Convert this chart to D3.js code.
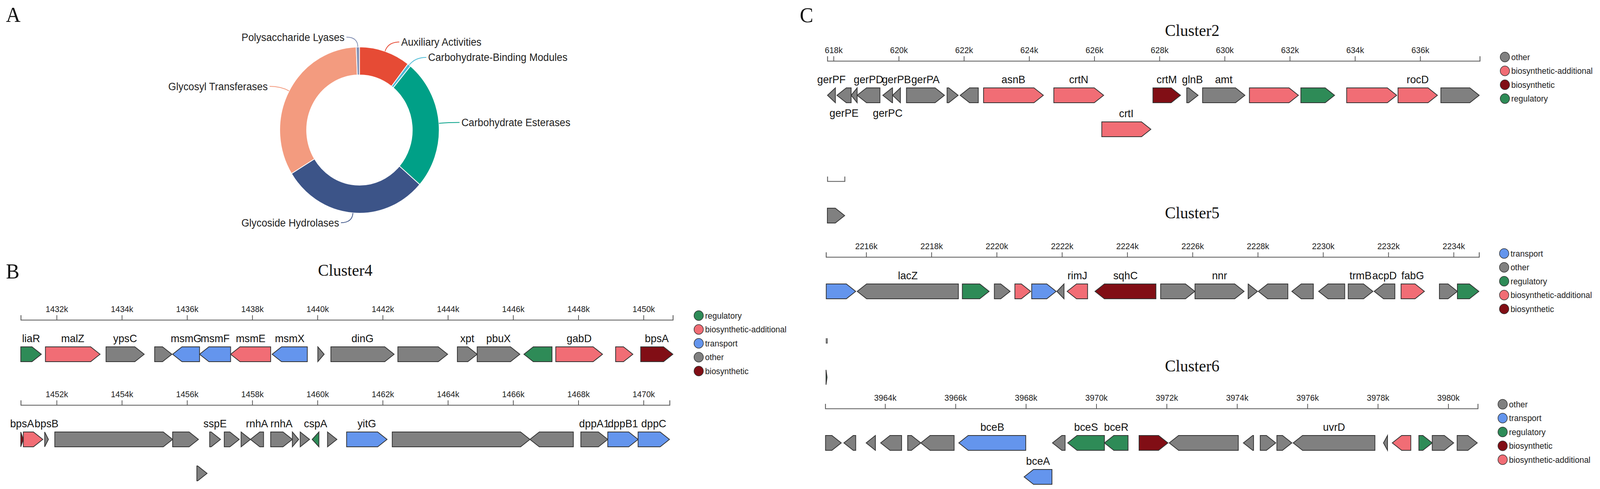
<!DOCTYPE html>
<html>
<head>
<meta charset="utf-8">
<script src="https://cdn.jsdelivr.net/npm/d3@7"></script>
<style>
  html, body { margin: 0; padding: 0; background: #fff; overflow: hidden; }
  #fig { display: block; width: 100vw; height: 100vh; }
  text { font-family: "Liberation Sans", Arial, sans-serif; }
  .serif { font-family: "Liberation Serif", "Times New Roman", serif; }
</style>
</head>
<body>
<svg id="fig" viewBox="0 0 4273 1252" preserveAspectRatio="none"></svg>
<script>
/*
    DATA
*/
// panel A: CAZy classes (counts)
const cazyNames = ["Auxiliary Activities", "Carbohydrate-Binding Modules", "Carbohydrate Esterases",
    "Glycoside Hydrolases", "Glycosyl Transferases", "Polysaccharide Lyases"];
const cazyCounts = [16, 1, 39, 46, 51, 1];

// genes: [start, end, strand, type, name]
const cluster4Genes = [
    [1430900, 1431530, 1, "regulatory", "liaR"],
    [1431656, 1433331, 1, "biosynthetic-additional", "malZ"],
    [1433515, 1434685, 1, "other", "ypsC"],
    [1435006, 1435534, 1, "other", ""],
    [1435557, 1436383, -1, "transport", "msmG"],
    [1436383, 1437336, -1, "transport", "msmF"],
    [1437336, 1438564, -1, "biosynthetic-additional", "msmE"],
    [1438610, 1439688, -1, "transport", "msmX"],
    [1440010, 1440205, 1, "other", ""],
    [1440411, 1442350, 1, "other", "dinG"],
    [1442465, 1443991, 1, "other", ""],
    [1444290, 1444898, 1, "other", "xpt"],
    [1444898, 1446206, 1, "other", "pbuX"],
    [1446332, 1447193, -1, "regulatory", ""],
    [1447308, 1448742, 1, "biosynthetic-additional", "gabD"],
    [1449144, 1449672, 1, "biosynthetic-additional", ""],
    [1449913, 1450900, 1, "biosynthetic", "bpsA"],
    [1450900, 1450979, 1, "biosynthetic", "bpsA"],
    [1450979, 1451575, 1, "biosynthetic-additional", ""],
    [1451633, 1451748, 1, "other", "bpsB"],
    [1451943, 1455557, 1, "other", ""],
    [1455557, 1456349, 1, "other", ""],
    [1456300, 1456613, 1, "other", ""],
    [1456693, 1457026, 1, "other", "sspE"],
    [1457141, 1457600, 1, "other", ""],
    [1457657, 1457944, 1, "other", ""],
    [1457944, 1458346, -1, "other", "rnhA"],
    [1458564, 1459229, 1, "other", "rnhA"],
    [1459229, 1459424, 1, "other", ""],
    [1459470, 1459757, 1, "other", ""],
    [1459837, 1460044, -1, "regulatory", "cspA"],
    [1460308, 1460595, 1, "other", ""],
    [1460893, 1462133, 1, "transport", "yitG"],
    [1462293, 1466516, 1, "other", ""],
    [1466516, 1467847, -1, "other", ""],
    [1468077, 1468903, 1, "other", "dppA1"],
    [1468903, 1469833, 1, "transport", "dppB1"],
    [1469833, 1470796, 1, "transport", "dppC"]
];
const cluster4Rows = [[1430900, 1450900], [1450900, 1470800]];
const cluster4Legend = ["regulatory", "biosynthetic-additional", "transport", "other", "biosynthetic"];

const cluster2Genes = [
    [617814, 618056, -1, "other", "gerPF"],
    [618104, 618539, -1, "other", "gerPE"],
    [618539, 618724, -1, "other", ""],
    [618724, 619423, -1, "other", "gerPD"],
    [619512, 619810, -1, "other", "gerPC"],
    [619810, 620051, -1, "other", "gerPB"],
    [620237, 621403, 1, "other", "gerPA"],
    [621483, 621822, 1, "other", ""],
    [621886, 622441, -1, "other", ""],
    [622602, 624437, 1, "biosynthetic-additional", "asnB"],
    [624758, 626287, 1, "biosynthetic-additional", "crtN"],
    [626230, 627736, 1, "biosynthetic-additional", "crtI"],
    [627800, 628646, 1, "biosynthetic", "crtM"],
    [628838, 629185, 1, "other", "glnB"],
    [629323, 630622, 1, "other", "amt"],
    [630760, 632264, 1, "biosynthetic-additional", ""],
    [632339, 633373, 1, "regulatory", ""],
    [633744, 635280, 1, "biosynthetic-additional", ""],
    [635320, 636529, 1, "biosynthetic-additional", "rocD"],
    [636635, 637811, 1, "other", ""],
    [638050, 638580, 1, "other", ""]
];
const cluster2Rows = [[617810, 637830], [638050, 638580]];
const cluster2Legend = ["other", "biosynthetic-additional", "biosynthetic", "regulatory"];

const cluster5Genes = [
    [2214777, 2215679, 1, "transport", ""],
    [2215727, 2218826, -1, "other", "lacZ"],
    [2218947, 2219767, 1, "regulatory", ""],
    [2219928, 2220410, 1, "other", ""],
    [2220557, 2221041, 1, "biosynthetic-additional", ""],
    [2221072, 2221821, 1, "transport", ""],
    [2221844, 2222062, -1, "other", ""],
    [2222159, 2222785, -1, "biosynthetic-additional", "rimJ"],
    [2223012, 2224879, -1, "biosynthetic", "sqhC"],
    [2225023, 2226071, 1, "other", ""],
    [2226076, 2227580, 1, "other", "nnr"],
    [2227705, 2227992, 1, "other", ""],
    [2228017, 2228921, -1, "other", ""],
    [2229044, 2229702, -1, "other", ""],
    [2229865, 2230664, -1, "other", ""],
    [2230771, 2231527, 1, "other", "trmB"],
    [2231567, 2232200, -1, "other", "acpD"],
    [2232390, 2233105, 1, "biosynthetic-additional", "fabG"],
    [2233565, 2234116, 1, "other", ""],
    [2234116, 2234773, 1, "regulatory", ""],
    [2234780, 2234812, 1, "regulatory", ""]
];
const cluster5Rows = [[2214770, 2234780], [2234780, 2234812]];
const cluster5Legend = ["transport", "other", "regulatory", "biosynthetic-additional", "biosynthetic"];

const cluster6Genes = [
    [3962307, 3962754, 1, "other", ""],
    [3962829, 3963165, -1, "other", ""],
    [3963462, 3963724, -1, "other", ""],
    [3963874, 3964469, -1, "other", ""],
    [3964641, 3965014, 1, "other", ""],
    [3965014, 3965961, -1, "other", ""],
    [3966095, 3967996, -1, "transport", "bceB"],
    [3967950, 3968741, -1, "transport", "bceA"],
    [3968756, 3969114, -1, "other", ""],
    [3969188, 3970232, -1, "regulatory", "bceS"],
    [3970232, 3970903, -1, "regulatory", "bceR"],
    [3971216, 3972036, 1, "biosynthetic", ""],
    [3972073, 3974035, -1, "other", ""],
    [3974180, 3974469, -1, "other", ""],
    [3974659, 3975100, 1, "other", ""],
    [3975131, 3975557, 1, "other", ""],
    [3975595, 3977917, -1, "other", "uvrD"],
    [3978160, 3978275, -1, "other", ""],
    [3978411, 3978937, -1, "biosynthetic-additional", ""],
    [3979166, 3979546, 1, "regulatory", ""],
    [3979546, 3980155, 1, "other", ""],
    [3980254, 3980825, 1, "other", ""]
];
const cluster6Rows = [[3962300, 3980840]];
const cluster6Legend = ["other", "transport", "regulatory", "biosynthetic", "biosynthetic-additional"];

/*
    STYLE / LAYOUT
*/
const CAZY_COLORS = ["#E64B35", "#4DBBD5", "#00A087", "#3C5488", "#F39B7F", "#8491B4"];
const TYPE_COLORS = {
    "biosynthetic": "#810E15",
    "biosynthetic-additional": "#F16D75",
    "transport": "#6495ED",
    "regulatory": "#2E8B57",
    "other": "#808080"
};
const GENE_H = 38, HEAD = 25, TRACK_GAP = 87, AXIS_TO_GENE = 88;

const svg = d3.select("#fig");
svg.append("rect").attr("width", 4273).attr("height", 1252).attr("fill", "#fff");

// panel letters
[["A", 16, 56], ["B", 16, 713], ["C", 2136, 57]].forEach(p => {
    svg.append("text").attr("class", "serif").attr("x", p[1]).attr("y", p[2])
        .attr("font-size", 54).attr("fill", "#111").text(p[0]);
});

/*
    PANEL A - donut
*/
drawDonut({ cx: 960, cy: 333, r0: 141, r1: 213 });

function drawDonut(cfg) {
    const g = svg.append("g").attr("transform", `translate(${cfg.cx},${cfg.cy})`);
    const arcs = d3.pie().sort(null).value(d => d)(cazyCounts);
    const arc = d3.arc().innerRadius(cfg.r0).outerRadius(cfg.r1);
    g.selectAll("path.slice")
        .data(arcs)
        .join("path")
        .attr("class", "slice")
        .attr("d", arc)
        .attr("fill", (d, i) => CAZY_COLORS[i])
        .attr("stroke", "#fff")
        .attr("stroke-width", 2);

    arcs.forEach((d, i) => {
        const a = (d.startAngle + d.endAngle) / 2;
        const s = Math.sin(a), c = -Math.cos(a);
        const dir = s >= 0 ? 1 : -1;
        const p0 = [cfg.r1 * s, cfg.r1 * c];
        const p1 = [(cfg.r1 + 25) * s, (cfg.r1 + 25) * c];
        const p2 = [p1[0] + dir * 30, p1[1]];
        g.append("path")
            .attr("d", `M${p0}Q${p1} ${p2}`)
            .attr("fill", "none")
            .attr("stroke", CAZY_COLORS[i])
            .attr("stroke-width", 2);
        g.append("text")
            .attr("x", p2[0] + dir * 5)
            .attr("y", p2[1])
            .attr("dy", "0.35em")
            .attr("text-anchor", dir > 0 ? "start" : "end")
            .attr("font-size", 27)
            .attr("fill", "#222")
            .text(cazyNames[i]);
    });
}

/*
    PANELS B, C - gene clusters
*/
drawCluster({ title: "Cluster4", tx: 922, ty: 706, x0: 55.5, x1: 1797, rowY: [819, 1037], lx: 1866, ly: 808 },
    cluster4Genes, cluster4Rows, cluster4Legend);
drawCluster({ title: "Cluster2", tx: 3184, ty: 92, x0: 2209.6, x1: 3952, rowY: [156, 464], lx: 4019, ly: 146 },
    cluster2Genes, cluster2Rows, cluster2Legend);
drawCluster({ title: "Cluster5", tx: 3184, ty: 559, x0: 2206, x1: 3950, rowY: [658, 878], lx: 4017, ly: 649 },
    cluster5Genes, cluster5Rows, cluster5Legend);
drawCluster({ title: "Cluster6", tx: 3184, ty: 951, x0: 2204, x1: 3946.6, rowY: [1046], lx: 4013, ly: 1035 },
    cluster6Genes, cluster6Rows, cluster6Legend);

function genePath(xa, xb, strand, yc) {
    const top = yc - GENE_H / 2, bot = yc + GENE_H / 2;
    const head = Math.min(HEAD, xb - xa);
    if (strand > 0) {
        return `M${xa},${top}L${xb - head},${top}L${xb},${yc}L${xb - head},${bot}L${xa},${bot}Z`;
    }
    return `M${xb},${top}L${xa + head},${top}L${xa},${yc}L${xa + head},${bot}L${xb},${bot}Z`;
}

function drawCluster(cfg, genes, rows, legend) {
    const g = svg.append("g");
    const k = (cfg.x1 - cfg.x0) / (rows[0][1] - rows[0][0]);

    g.append("text").attr("class", "serif")
        .attr("x", cfg.tx).attr("y", cfg.ty)
        .attr("text-anchor", "middle")
        .attr("font-size", 43).attr("fill", "#111")
        .text(cfg.title);

    rows.forEach((dom, ri) => {
        const axisY = cfg.rowY[ri];
        const x = d3.scaleLinear().domain(dom).range([cfg.x0, cfg.x0 + (dom[1] - dom[0]) * k]);
        const ticks = d3.range(Math.ceil(dom[0] / 2000) * 2000, dom[1], 2000);
        const axis = d3.axisTop(x)
            .tickValues(ticks)
            .tickFormat(v => (v / 1000) + "k")
            .tickSizeInner(12)
            .tickSizeOuter(12)
            .tickPadding(8);
        const ag = g.append("g").attr("transform", `translate(0,${axisY})`).call(axis);
        ag.select(".domain").attr("stroke", "#555").attr("stroke-width", 2.2);
        ag.selectAll(".tick line").attr("stroke", "#555").attr("stroke-width", 2);
        ag.selectAll(".tick text")
            .attr("font-size", 22)
            .attr("fill", "#222")
            .attr("font-family", "'Liberation Sans', Arial, sans-serif");

        // genes in this row + track assignment for overlaps
        const rowGenes = genes
            .filter(d => d[0] >= dom[0] && d[0] < dom[1])
            .map(d => ({ start: d[0], end: d[1], strand: d[2], type: d[3], name: d[4] }));
        const trackEnds = [];
        rowGenes.forEach(d => {
            let t = 0;
            while (trackEnds[t] !== undefined && d.start < trackEnds[t] - 20) t++;
            trackEnds[t] = d.end;
            d.track = t;
            d.yc = axisY + AXIS_TO_GENE + t * TRACK_GAP;
        });

        g.append("g").selectAll("path")
            .data(rowGenes)
            .join("path")
            .attr("d", d => genePath(x(d.start), x(d.end), d.strand, d.yc))
            .attr("fill", d => TYPE_COLORS[d.type])
            .attr("stroke", "#333")
            .attr("stroke-width", 2)
            .attr("stroke-linejoin", "miter");

        // gene labels: simple greedy placement to avoid overlaps
        const placed = [];
        rowGenes.filter(d => d.name).forEach(d => {
            const cx = (x(d.start) + x(d.end)) / 2;
            const t = g.append("text")
                .attr("x", cx)
                .attr("text-anchor", "middle")
                .attr("font-size", 28)
                .attr("fill", "#111")
                .text(d.name);
            const w = t.node().getComputedTextLength();
            const above = lvl => d.yc - GENE_H / 2 - 12 - lvl * 24;
            const below = d.yc + GENE_H / 2 + 36;
            const slots = d.track === 0 ? [above(0), below, above(1), above(2)] : [above(0), below];
            let y = slots[0];
            for (const s of slots) {
                const hit = placed.some(p => Math.abs(p.y - s) < 5 &&
                    Math.min(p.x2, cx + w / 2) - Math.max(p.x1, cx - w / 2) > 6);
                if (!hit) { y = s; break; }
            }
            placed.push({ x1: cx - w / 2, x2: cx + w / 2, y: y });
            t.attr("y", y);
        });
    });

    // legend
    const lg = g.append("g").attr("transform", `translate(${cfg.lx},${cfg.ly})`);
    legend.forEach((type, i) => {
        lg.append("circle")
            .attr("cx", 0).attr("cy", i * 35.5).attr("r", 12.5)
            .attr("fill", TYPE_COLORS[type])
            .attr("stroke", "#333").attr("stroke-width", 1.5);
        lg.append("text")
            .attr("x", 17).attr("y", i * 35.5).attr("dy", "0.35em")
            .attr("font-size", 22).attr("fill", "#222")
            .text(type);
    });
}
</script>
</body>
</html>
